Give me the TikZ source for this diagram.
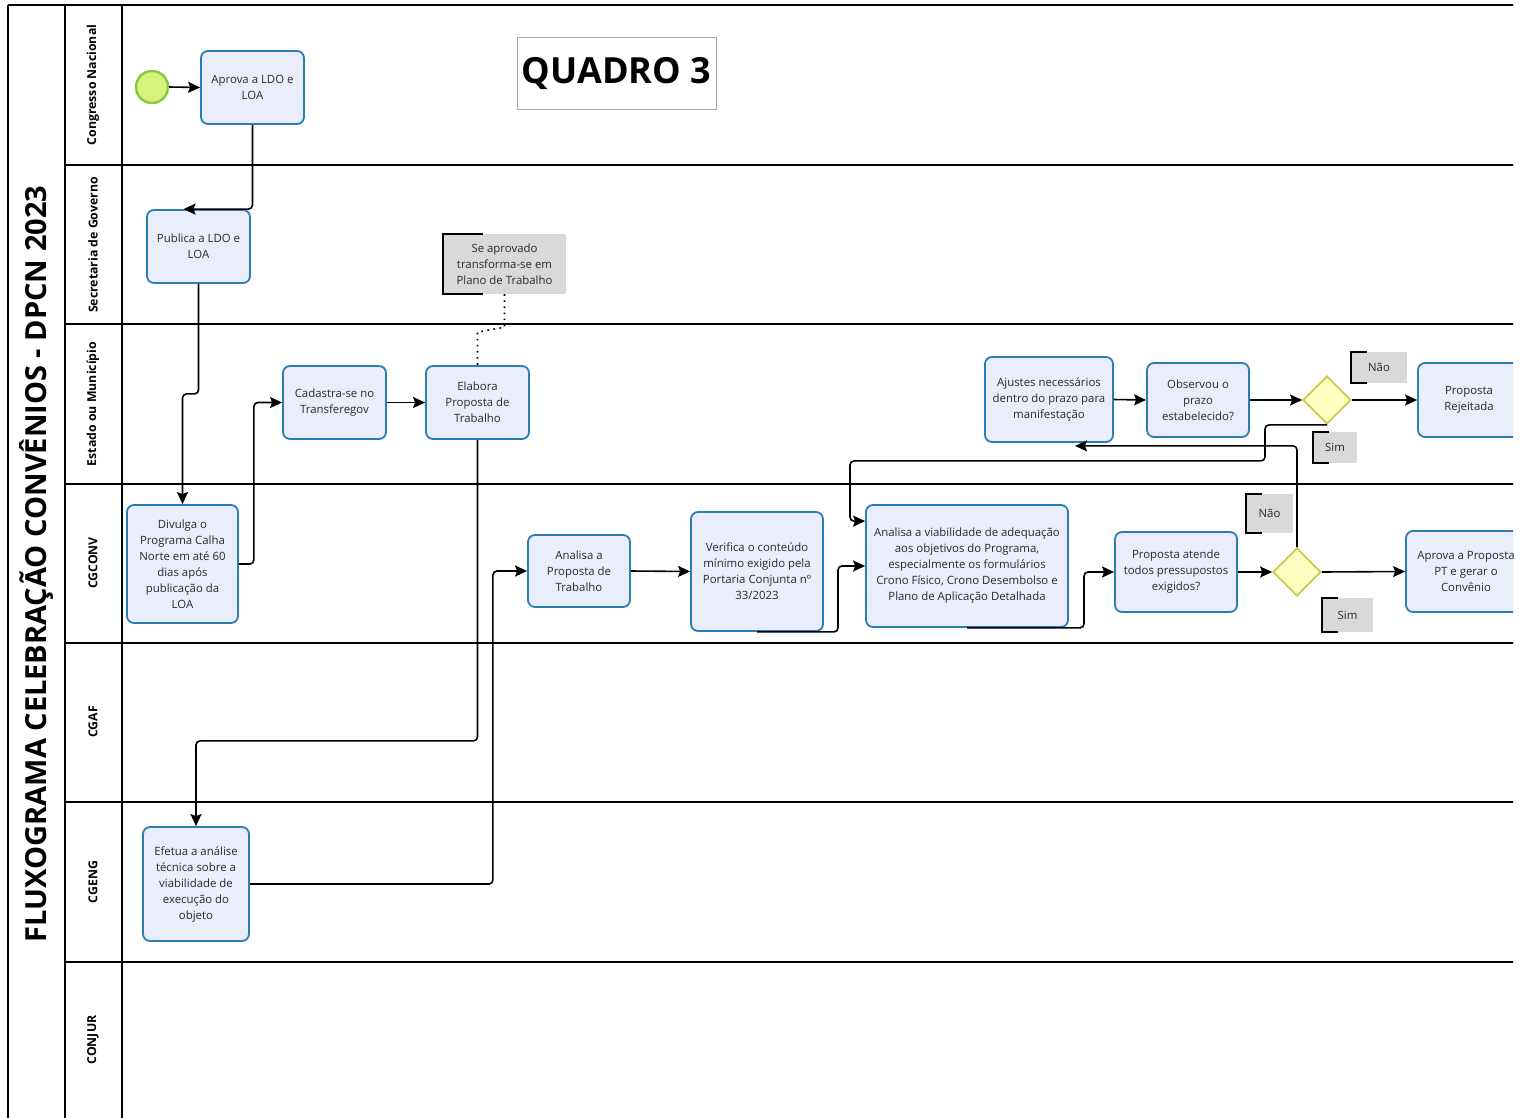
\documentclass[tikz,border=0pt]{standalone}
\usepackage{fontspec}
\setmainfont{Open Sans}
\usetikzlibrary{shapes.geometric,arrows.meta,calc}
\definecolor{taskfill}{HTML}{E9EDFC}
\definecolor{taskborder}{HTML}{2A7DB5}
\definecolor{txt}{HTML}{2B2B2B}
\definecolor{gwfill}{HTML}{FFFFC4}
\definecolor{gwborder}{HTML}{C9C94A}
\definecolor{startfill}{HTML}{D8F27E}
\definecolor{startborder}{HTML}{8CC63F}
\definecolor{notefill}{HTML}{D9D9D9}
\begin{document}
\begin{tikzpicture}[x=1pt,y=-1pt,
 task/.style={draw=taskborder, fill=taskfill, line width=1.8pt, rounded corners=7pt, align=center, text=txt, font=\fontsize{11.4}{16}\selectfont, inner sep=1pt},
 gateway/.style={diamond, aspect=1, draw=gwborder, fill=gwfill, line width=1.8pt, minimum width=48pt, minimum height=48pt, inner sep=0pt},
 startev/.style={circle, draw=startborder, fill=startfill, line width=2.4pt, minimum size=32pt, inner sep=0pt},
 anno/.style={fill=notefill, align=center, text=txt, font=\fontsize{11.4}{16}\selectfont, inner sep=0pt},
 bracket/.style={line width=1.8pt},
 conn/.style={draw=black, line width=1.6pt, rounded corners=4pt, -{Stealth[length=12pt,width=11pt,inset=2pt]}},
 assoc/.style={draw=black, line width=1.6pt, dash pattern=on 1.6pt off 4.5pt},
 lanelabel/.style={rotate=90, font=\bfseries\fontsize{12.3}{14}\selectfont},
 laneline/.style={line width=2.5pt},
]
\useasboundingbox (0,0) rectangle (1525,1118);
\fill[white] (0,0) rectangle (1525,1118);
\begin{scope}
\clip (0,0) rectangle (1513,1118);
% pool and lanes
\draw[line width=2pt] (8,5) -- (8,1118);
\draw[laneline] (65,5) -- (65,1118);
\draw[line width=1.6pt] (122,5) -- (122,1118);
\draw[laneline] (8,5) -- (1525,5);
\foreach \yy in {165,324,484,643,802,962}
  \draw[laneline] (65,\yy) -- (1525,\yy);
\node[rotate=90, font=\bfseries\fontsize{29}{32}\selectfont] (title) at (36,564) {FLUXOGRAMA CELEBRAÇÃO CONVÊNIOS - DPCN 2023};
\node[lanelabel] (l1) at (93,85) {Congresso Nacional};
\node[lanelabel] (l2) at (93,245) {Secretaria de Governo};
\node[lanelabel] (l3) at (93,404) {Estado ou Município};
\node[lanelabel] (l4) at (93,563) {CGCONV};
\node[lanelabel] (l5) at (93,722) {CGAF};
\node[lanelabel] (l6) at (93,882) {CGENG};
\node[lanelabel] (l7) at (93,1040) {CONJUR};
% title box
\node[draw=black!35, line width=1pt, minimum width=199pt, minimum height=72pt, font=\bfseries\fontsize{36}{40}\selectfont] (quadro) at (616.5,74) {QUADRO 3};
% nodes
\node[startev] (start) at (152,87) {};
\node[task, minimum width=103pt, minimum height=73pt] (aprova) at (252.5,87.5) {Aprova a LDO e\\LOA};
\node[task, minimum width=103pt, minimum height=73pt] (publica) at (198.5,246.5) {Publica a LDO e\\LOA};
\node[anno, minimum width=123pt, minimum height=60pt] (note) at (504.5,264) {Se aprovado\\transforma-se em\\Plano de Trabalho};
\node[task, minimum width=103pt, minimum height=73pt] (cadastra) at (334.5,402.5) {Cadastra-se no\\Transferegov};
\node[task, minimum width=103pt, minimum height=73pt] (elabora) at (477.5,402.5) {Elabora\\Proposta de\\Trabalho};
\node[task, minimum width=128pt, minimum height=85pt] (ajustes) at (1049,399.5) {Ajustes necessários\\dentro do prazo para\\manifestação};
\node[task, minimum width=102pt, minimum height=74pt] (observou) at (1198,400) {Observou o\\prazo\\estabelecido?};
\node[gateway] (d1) at (1327,400) {};
\node[anno, minimum width=56pt, minimum height=31pt] (nao1) at (1379,367.5) {Não};
\node[task, minimum width=102pt, minimum height=74pt] (rejeitada) at (1469,400) {Proposta\\Rejeitada};
\node[anno, minimum width=44pt, minimum height=31pt] (sim1) at (1335,447.5) {Sim};
\node[task, minimum width=111pt, minimum height=118pt] (divulga) at (182.5,564) {Divulga o\\Programa Calha\\Norte em até 60\\dias após\\publicação da\\LOA};
\node[task, minimum width=102pt, minimum height=72pt] (analisa) at (579,571) {Analisa a\\Proposta de\\Trabalho};
\node[task, minimum width=132pt, minimum height=119pt] (verifica) at (757,571.5) {Verifica o conteúdo\\mínimo exigido pela\\Portaria Conjunta nº\\33/2023};
\node[task, minimum width=202pt, minimum height=122pt] (viab) at (967,566) {Analisa a viabilidade de adequação\\aos objetivos do Programa,\\especialmente os formulários\\Crono Físico, Crono Desembolso e\\Plano de Aplicação Detalhada};
\node[task, minimum width=122pt, minimum height=80pt] (atende) at (1176,572) {Proposta atende\\todos pressupostos\\exigidos?};
\node[gateway] (d2) at (1297,572) {};
\node[anno, minimum width=47pt, minimum height=39pt] (nao2) at (1269.5,513.5) {Não};
\node[anno, minimum width=51pt, minimum height=34pt] (sim2) at (1347.5,615) {Sim};
\node[task, minimum width=120pt, minimum height=81pt] (aprovapt) at (1466,571.5) {Aprova a Proposta\\PT e gerar o\\Convênio};
\node[task, minimum width=106pt, minimum height=114pt] (efetua) at (196,884) {Efetua a análise\\técnica sobre a\\viabilidade de\\execução do\\objeto};
% brackets on annotations
\foreach \n/\s in {note/40,nao1/16,sim1/16,nao2/16,sim2/16}
  \draw[bracket] ([xshift=\s pt]\n.north west) -- (\n.north west) -- (\n.south west) -- ([xshift=\s pt]\n.south west);
% connectors
\draw[conn] (start.east) -- (aprova.west);
\draw[conn] (aprova.south) |- ([xshift=-15pt]publica.north);
\draw[conn] (publica.south) -- ++(0,110) -| (divulga.north);
\draw[conn] (divulga.east) -- ++(15,0) |- (cadastra.west);
\draw[conn] (cadastra.east) -- (elabora.west);
\draw[conn] (elabora.south) -- ++(0,301) -| (efetua.north);
\draw[conn] (efetua.east) -- ++(243,0) |- (analisa.west);
\draw[conn] (analisa.east) -- (verifica.west);
\draw[conn] (verifica.south) -- ++(81,0) |- (viab.west);
\draw[conn] (viab.south) -- ++(117,0) |- (atende.west);
\draw[conn] (atende.east) -- (d2.west);
\draw[conn] (d2.east) -- (aprovapt.west);
\draw[conn] (d2.north) |- ([xshift=26pt,yshift=-3pt]ajustes.south);
\draw[conn] (ajustes.east) -- (observou.west);
\draw[conn] (observou.east) -- (d1.west);
\draw[conn] (d1.east) -- (rejeitada.west);
\draw[conn] (d1.south) -- ++(-62,0) -- ++(0,36) -- ++(-415,0) |- ([yshift=-17pt]viab.north west);
\draw[assoc] (note.south) -- ++(0,33) -- ([yshift=33pt]elabora.north) -- (elabora.north);
\end{scope}
\end{tikzpicture}
\end{document}
